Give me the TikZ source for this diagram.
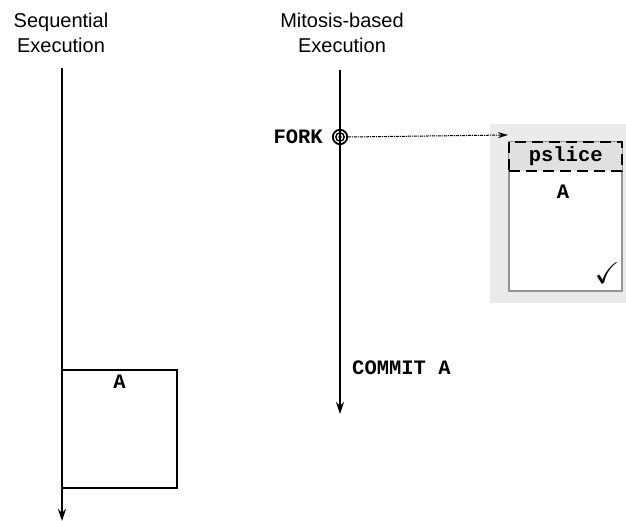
\documentclass[tikz,border=0pt]{standalone}
\usepackage{fontspec}
\usepackage{amssymb}
\setmainfont{Liberation Sans}
\newfontfamily\codefont{Liberation Mono}
\usetikzlibrary{arrows.meta}
\begin{document}
\begin{tikzpicture}[x=1pt,y=-1pt,
  heading/.style={font=\fontsize{20}{25}\selectfont, align=center, inner sep=0pt},
  code/.style={font=\codefont\bfseries\fontsize{20.5}{22}\selectfont, inner sep=0pt},
  timeline/.style={line width=1.7pt, -{Stealth[length=12pt,width=8pt]}},
  taskbox/.style={draw, line width=2.2pt, minimum width=115pt, minimum height=118pt, inner sep=0pt},
  spawn/.style={line width=1pt, densely dash dot, -{Stealth[length=10pt,width=6pt]}}]
\useasboundingbox (0,0) rectangle (626,521);

% column headings
\node[heading] (seqhead) at (61,33) {Sequential\\Execution};
\node[heading] (mithead) at (342,33) {Mitosis-based\\Execution};

% sequential timeline with task A
\coordinate (seqtop) at (62,68);
\coordinate (seqend) at (62,521);
\node[taskbox, anchor=north west] (seqA) at (61,369) {};
\node[code, anchor=north] (seqAlbl) at (seqA.north) [yshift=-6pt] {A};
\draw[timeline] (seqtop) -- (seqend);

% mitosis timeline
\coordinate (mittop) at (340,70);
\coordinate (mitend) at (340,414);
\draw[timeline] (mittop) -- (mitend);

% fork point
\coordinate (forkpt) at (340,137);
\draw[line width=1.8pt] (forkpt) circle (7.2);
\draw[line width=1.4pt] (forkpt) circle (4.2);
\fill (forkpt) circle (1.8);
\node[code, anchor=east] (forklbl) at (323,137) {FORK};
\node[code, anchor=west] (commit) at (352,368) {COMMIT A};

% speculative slice panel
\fill[black!8] (490,124) rectangle (626,303);
\node[draw=black!42, fill=white, line width=2.4pt, anchor=north west,
      minimum width=113pt, minimum height=149pt, inner sep=0pt] (slice) at (508,141) {};
\node[draw, dashed, dash pattern=on 11pt off 6pt, line width=2.4pt, fill=black!12,
      anchor=north west, minimum width=113pt, minimum height=29pt, inner sep=0pt]
      (pslice) at (508,141) {};
\node[code] (psllbl) at (pslice.center) {pslice};
\node[code] (sliceA) at (563,192) {A};
\node[font=\fontsize{30}{32}\selectfont, inner sep=0pt] (check) at (607,273) {$\checkmark$};

% spawn arrow
\draw[spawn] ([xshift=8pt]forkpt) -- ([yshift=6pt]pslice.north west);
\end{tikzpicture}
\end{document}
